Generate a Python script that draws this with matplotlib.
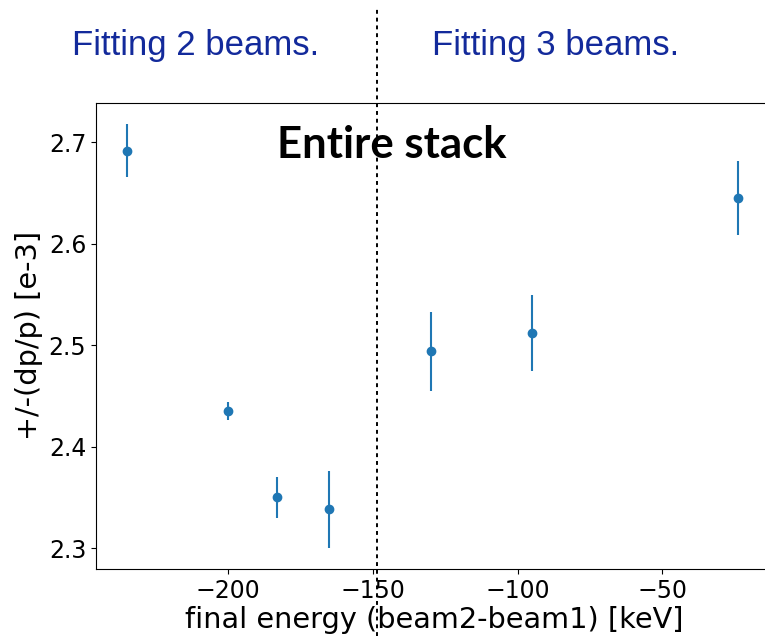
import numpy as np
import matplotlib

matplotlib.use('Agg')
from matplotlib import pyplot as plt
from matplotlib import transforms

# energy difference (beam2-beam1) [keV]
energy = [-235, -200, -183, -165, -130, -95, -24]
# +/-(dp/p) [e-3] and its error
dpp = [2.692, 2.435, 2.350, 2.338, 2.494, 2.512, 2.645]
dpp_err = [0.026, 0.009, 0.020, 0.038, 0.039, 0.0375, 0.0365]

split_energy = -148.7
region_labels = ['Fitting 2 beams.', 'Fitting 3 beams.']

fig = plt.figure(figsize=(7.65, 6.36), dpi=100)
# axes run a bit past the right border (the original was cropped there)
ax = fig.add_axes([96 / 765, 67 / 636, 676 / 765, 466.5 / 636])

ax.errorbar(energy, dpp, yerr=dpp_err, fmt='o', color='#1f77b4')
ax.set_xlim(-245.6, -12.1)
ax.set_ylim(2.2793, 2.7394)
ax.set_xticks([-200, -150, -100, -50])
ax.set_yticks([2.3, 2.4, 2.5, 2.6, 2.7])
ax.tick_params(labelsize=17)
ax.set_xlabel('final energy (beam2-beam1) [keV]', fontsize=20.7, labelpad=2)
ax.set_ylabel('+/-(dp/p) [e-3]', fontsize=20.7)

ax.text(0.268, 0.881, 'Entire stack', transform=ax.transAxes, fontsize=31.5,
        fontweight='bold', family='Lato', va='baseline', ha='left')

# dotted separator running through the whole figure height
trans = transforms.blended_transform_factory(ax.transData, fig.transFigure)
ax.plot([split_energy, split_energy], [0, 1 - 8 / 636], transform=trans,
        color='black', linestyle=(0, (2, 2)), linewidth=1.4, clip_on=False)

fig.text(196 / 765, 1 - 55 / 636, region_labels[0], color='#132a9b',
         fontsize=25, family='Liberation Sans', ha='center', va='baseline')
fig.text(556 / 765, 1 - 55 / 636, region_labels[1], color='#132a9b',
         fontsize=25, family='Liberation Sans', ha='center', va='baseline')

plt.savefig('out.png', dpi=100)
plt.close(fig)
